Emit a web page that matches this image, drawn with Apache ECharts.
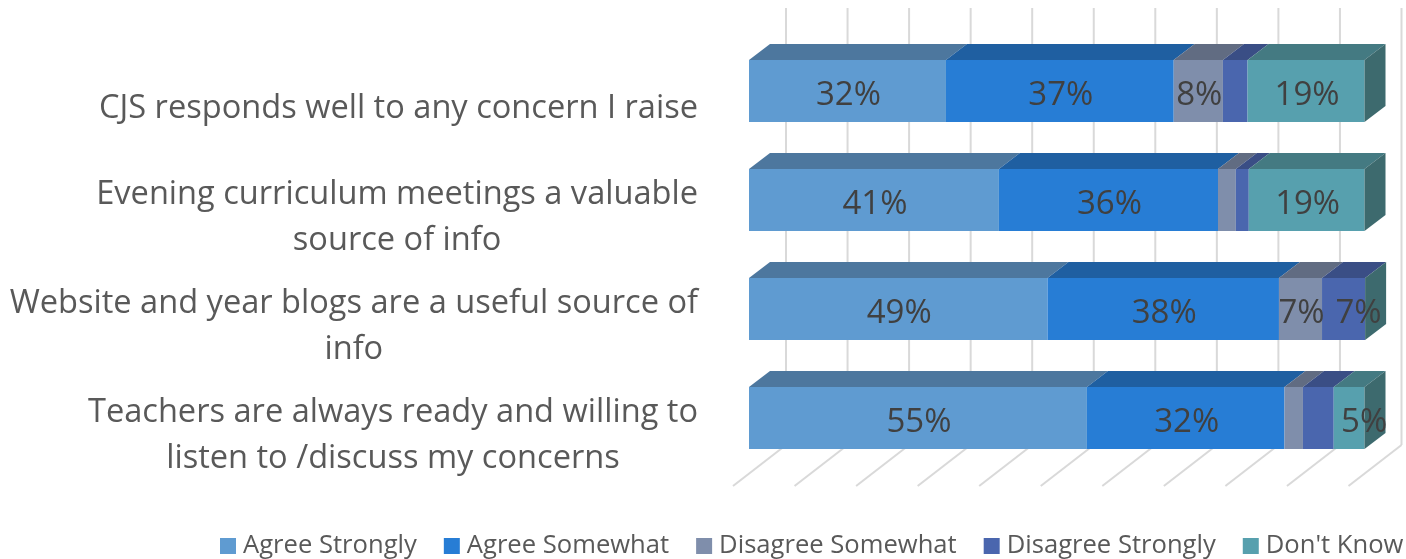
<!DOCTYPE html>
<html>
<head>
<meta charset="utf-8">
<style>
html, body { margin: 0; padding: 0; background: #fff; }
#chart { width: 1406px; height: 559px; }
</style>
<script src="https://cdn.jsdelivr.net/npm/echarts@6/dist/echarts.min.js"></script>
</head>
<body>
<div id="chart"></div>
<script>
var categories = [
    'CJS responds well to any concern I raise',
    'Evening curriculum meetings a valuable\nsource of info',
    'Website and year blogs are a useful source of\ninfo',
    'Teachers are always ready and willing to\nlisten to /discuss my concerns'
];
var xTicks = [0, 10, 20, 30, 40, 50, 60, 70, 80, 90, 100];

var agreeStrongly = [32, 40.6, 48.5, 54.9];
var agreeSomewhat = [37, 35.6, 37.6, 32.1];
var disagreeSomewhat = [8, 2.9, 7, 3];
var disagreeStrongly = [4, 2.1, 7, 5];
var dontKnow = [19, 18.8, 0, 5];

var agreeStronglyLabels = ['32%', '41%', '49%', '55%'];
var agreeSomewhatLabels = ['37%', '36%', '38%', '32%'];
var disagreeSomewhatLabels = ['8%', '', '7%', ''];
var disagreeStronglyLabels = ['', '', '7%', ''];
var dontKnowLabels = ['19%', '19%', '', '5%'];

var FONT = '"Open Sans"';
var DEPTH_X = 21, DEPTH_Y = 16;
var chart = echarts.init(document.getElementById('chart'));

// back wall lines + the floor lines coming forward from them
function renderGridLine(params, api) {
    var sys = params.coordSys;
    var x = api.coord([api.value(0), 0])[0] + 37;
    var bottom = sys.y + sys.height - 27.5;
    var style = { stroke: '#d9d9d9', lineWidth: 2 };
    return {
        type: 'group',
        children: [
            { type: 'line', shape: { x1: x, y1: sys.y - 28.5, x2: x, y2: bottom }, style: style },
            { type: 'line', shape: { x1: x, y1: bottom, x2: x - 53, y2: bottom + 41 }, style: style }
        ]
    };
}

function makeRenderer(front, top, isLast) {
    return function(params, api) {
        var row = api.value(2);
        var a = api.coord([api.value(0), row]);
        var b = api.coord([api.value(1), row]);
        var h = api.size([0, 1])[1] * 0.569;
        var y0 = a[1] - h / 2, y1 = a[1] + h / 2;
        var label = api.value(3);
        var kids = [
            { type: 'polygon', z2: 2, shape: { points: [[a[0], y0], [b[0], y0], [b[0] + DEPTH_X, y0 - DEPTH_Y], [a[0] + DEPTH_X, y0 - DEPTH_Y]] }, style: { fill: top } },
            { type: 'rect', z2: 3, shape: { x: a[0], y: y0, width: b[0] - a[0], height: h }, style: { fill: front } }
        ];
        if (isLast) {
            kids.push({ type: 'polygon', z2: 3, shape: { points: [[b[0], y0], [b[0] + DEPTH_X, y0 - DEPTH_Y], [b[0] + DEPTH_X, y1 - DEPTH_Y], [b[0], y1]] }, style: { fill: '#3d6a6e' } });
        }
        if (label) {
            // narrow labels at the far end sit over the side face
            var nudge = api.value(1) >= 99.9 && api.value(1) - api.value(0) < 8 ? 14 : 0;
            kids.push({
                type: 'text', z2: 10,
                style: {
                    x: (a[0] + b[0]) / 2 + nudge + 1, y: a[1] + 5, text: label,
                    align: 'center', verticalAlign: 'middle',
                    fontFamily: FONT, fontSize: 33, fill: '#404040'
                }
            });
        }
        return { type: 'group', children: kids };
    };
}

var stack = [
    { name: 'Agree Strongly', values: agreeStrongly, labels: agreeStronglyLabels, front: '#5f9bd1', top: '#4d779e' },
    { name: 'Agree Somewhat', values: agreeSomewhat, labels: agreeSomewhatLabels, front: '#277dd5', top: '#1f5fa1' },
    { name: 'Disagree Somewhat', values: disagreeSomewhat, labels: disagreeSomewhatLabels, front: '#7f8eab', top: '#616c82' },
    { name: 'Disagree Strongly', values: disagreeStrongly, labels: disagreeStronglyLabels, front: '#4a66ae', top: '#3a4e85' },
    { name: "Don't Know", values: dontKnow, labels: dontKnowLabels, front: '#57a0ae', top: '#447a82' }
];

var sums = categories.map(function() { return 0; });
var series = [{
    type: 'custom',
    silent: true,
    z: 1,
    clip: false,
    renderItem: renderGridLine,
    data: xTicks.map(function(t) { return [t]; })
}];
stack.forEach(function(s, i) {
    series.push({
        name: s.name,
        type: 'custom',
        z: 2,
        clip: false,
        itemStyle: { color: s.front },
        renderItem: makeRenderer(s.front, s.top, i === stack.length - 1),
        encode: { x: [0, 1], y: 2 },
        data: s.values.map(function(v, row) {
            var start = sums[row];
            sums[row] += v;
            return [start, sums[row], row, s.labels[row]];
        })
    });
});

chart.setOption({
    animation: false,
    backgroundColor: '#fff',
    grid: { left: 749, top: 36.5, width: 615.5, height: 436 },
    xAxis: { type: 'value', min: 0, max: 100, interval: 10, show: false },
    yAxis: {
        type: 'category',
        inverse: true,
        data: categories,
        axisLine: { show: false },
        axisTick: { show: false },
        splitLine: { show: false },
        axisLabel: {
            margin: 51,
            align: 'right',
            padding: [36, 0, 0, 0],
            formatter: function(v) {
                return v.split('\n').map(function(s) { return '{c|' + s + '}'; }).join('\n');
            },
            rich: { c: { align: 'center', fontFamily: FONT, fontSize: 32.6, lineHeight: 46, color: '#595959' } }
        }
    },
    legend: {
        left: 220,
        top: 533,
        width: 1186,
        padding: 0,
        icon: 'rect',
        itemWidth: 16,
        itemHeight: 16,
        itemGap: 27,
        selectedMode: false,
        textStyle: { fontFamily: FONT, fontSize: 25.6, color: '#595959', padding: [0, 0, 0, 2] },
        data: stack.map(function(s) { return s.name; })
    },
    series: series
});
</script>
</body>
</html>
